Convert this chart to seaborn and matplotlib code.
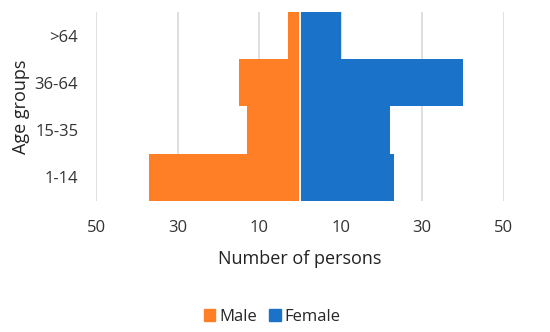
import pandas as pd
import numpy as np
import matplotlib
matplotlib.use("Agg")
import matplotlib.pyplot as plt
import seaborn as sns

# Data
age_groups = ["1-14", "15-35", "36-64", ">64"]
male = [37, 13, 15, 3]
female = [23, 22, 40, 10]
tick_vals = [-50, -30, -10, 10, 30, 50]
tick_labels = ["50", "30", "10", "10", "30", "50"]

male_color = "#FF7F27"
female_color = "#1A73C9"

df = pd.DataFrame({
    "Age groups": age_groups * 2,
    "Persons": [-m for m in male] + female,
    "Sex": ["Male"] * len(age_groups) + ["Female"] * len(age_groups),
})

sns.set_style("white")
plt.rcParams["font.family"] = ["Open Sans", "DejaVu Sans"]

fig, ax = plt.subplots(figsize=(5.5, 3.32), dpi=100)
fig.subplots_adjust(left=0.175, right=0.916, top=0.964, bottom=0.395)

order = age_groups[::-1]
sns.barplot(data=df, x="Persons", y="Age groups", hue="Sex", order=order,
            hue_order=["Male", "Female"], palette=[male_color, female_color],
            dodge=False, width=1.0, orient="h", saturation=1,
            linewidth=0, legend=False, ax=ax, zorder=3)
ax.axvline(0, color="white", linewidth=1.4, zorder=4)

ax.set_xlim(-50, 50)
ax.set_xticks(tick_vals)
ax.set_xticklabels(tick_labels, fontsize=12, color="#333333")
ax.tick_params(axis="y", labelsize=12, labelcolor="#333333", length=0, pad=13)
ax.tick_params(axis="x", length=0, pad=14)
ax.grid(axis="x", color="#D9D9D9", linewidth=1.2, zorder=0)
ax.set_axisbelow(True)
for s in ax.spines.values():
    s.set_visible(False)

ax.set_xlabel("Number of persons", fontsize=13, color="#222222", labelpad=10)
ax.set_ylabel("Age groups", fontsize=13, color="#222222")
ax.yaxis.set_label_coords(-0.163, 0.5)

handles = [plt.Rectangle((0, 0), 1, 1, color=male_color),
           plt.Rectangle((0, 0), 1, 1, color=female_color)]
fig.legend(handles, ["Male", "Female"], loc="center", bbox_to_anchor=(0.495, 0.045),
           ncol=2, frameon=False, fontsize=12, handlelength=0.7,
           handleheight=0.7, handletextpad=0.25, columnspacing=0.7)

fig.savefig("out.png", dpi=100)
